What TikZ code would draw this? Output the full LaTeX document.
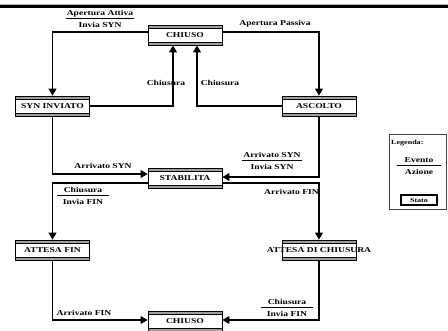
\documentclass[tikz,border=0pt]{standalone}
\usepackage{fontspec}
\setmainfont{Liberation Serif}[FakeStretch=1.28]
\usetikzlibrary{arrows.meta}
\newcommand\evfrac[3][1pt]{{\setlength\arrayrulewidth{0.8pt}\renewcommand\arraystretch{0.9}\begin{tabular}{@{\hspace{#1}}c@{\hspace{#1}}}#2\\\hline\rule{0pt}{8.5pt}#3\end{tabular}}}
\begin{document}
\begin{tikzpicture}[x=1pt,y=-1pt,
  lbl/.style={font=\fontsize{7.5}{8}\selectfont\bfseries, inner sep=0pt, text=black},
  smalllbl/.style={font=\fontsize{6.3}{7}\selectfont\bfseries, inner sep=0pt},
  conn/.style={line width=1.1pt, -{Triangle[length=7pt,width=8pt]}},
  statebox/.style={draw, line width=0.9pt, fill=white, minimum width=74pt, minimum height=20pt,
    inner sep=0pt, font=\fontsize{7.5}{8}\selectfont\bfseries,
    path picture={
      \fill[gray!75] (path picture bounding box.north west) rectangle ([yshift=-3pt]path picture bounding box.north east);
      \draw[line width=0.6pt] ([yshift=-3pt]path picture bounding box.north west) -- ([yshift=-3pt]path picture bounding box.north east);
      \fill[gray!75] (path picture bounding box.south west) rectangle ([yshift=3pt]path picture bounding box.south east);
      \draw[line width=0.6pt] ([yshift=3pt]path picture bounding box.south west) -- ([yshift=3pt]path picture bounding box.south east);
    }}]
\useasboundingbox (0,0) rectangle (448,331);
\fill[white] (0,0) rectangle (448,331);
% top bar
\draw[gray!60, line width=0.6pt] (0,4) -- (448,4);
\fill[black] (0,4.8) rectangle (448,7.6);

% states
\node[statebox] (c1) at (185,35) {CHIUSO};
\node[statebox] (syn) at (52.5,106) {SYN INVIATO};
\node[statebox] (asc) at (319,106) {ASCOLTO};
\node[statebox] (stab) at (185,178) {STABILITA};
\node[statebox] (afin) at (52.5,250) {ATTESA FIN};
\node[statebox] (adc) at (319,250) {\makebox[0pt]{ATTESA DI CHIUSURA}};
\node[statebox] (c2) at (185,321) {CHIUSO};

% connectors
\draw[conn] ([yshift=3pt]c1.west) -| (syn.north);
\draw[conn] ([yshift=3pt]c1.east) -| (asc.north);
\draw[conn] (syn.east) -| ([xshift=-12pt]c1.south);
\draw[conn] (asc.west) -| ([xshift=12pt]c1.south);
\draw[conn] (syn.south) |- ([yshift=4pt]stab.west);
\draw[conn] (asc.south) |- ([yshift=1pt]stab.east);
\draw[conn] ([yshift=-5pt]stab.west) -| (afin.north);
\draw[conn] ([yshift=-5pt]stab.east) -| (adc.north);
\draw[conn] (afin.south) |- ([yshift=1pt]c2.west);
\draw[conn] (adc.south) |- ([yshift=1pt]c2.east);

% labels
\node[lbl] (l1) at (100,20) {\evfrac{Apertura Attiva}{Invia SYN}};
\node[lbl] (l2) at (275,24) {Apertura Passiva};
\node[lbl] (l3) at (166,83) {Chiusura};
\node[lbl] (l4) at (220,83) {Chiusura};
\node[lbl] (l5) at (103,166) {Arrivato SYN};
\node[lbl] (l6) at (272,162) {\evfrac{Arrivato SYN}{Invia SYN}};
\node[lbl] (l7) at (83,197) {\evfrac[6pt]{Chiusura}{Invia FIN}};
\node[lbl, anchor=east] (l8) at (319,192) {Arrivato FIN};
\node[lbl] (l9) at (84,313) {Arrivato FIN};
\node[lbl] (l10) at (287,309) {\evfrac[6pt]{Chiusura}{Invia FIN}};

% legend
\node[draw=black!75, line width=0.6pt, minimum width=57pt, minimum height=75pt, inner sep=0pt] (leg) at (417.5,171.5) {};
\node[smalllbl, anchor=west] (legt) at (391,143) {Legenda:};
\node[lbl] (legf) at (419,167) {\evfrac[8pt]{Evento}{Azione}};
\node[draw, line width=1.5pt, minimum width=36pt, minimum height=10pt, inner sep=0pt, smalllbl] (stato) at (419,200) {Stato};
\end{tikzpicture}
\end{document}
